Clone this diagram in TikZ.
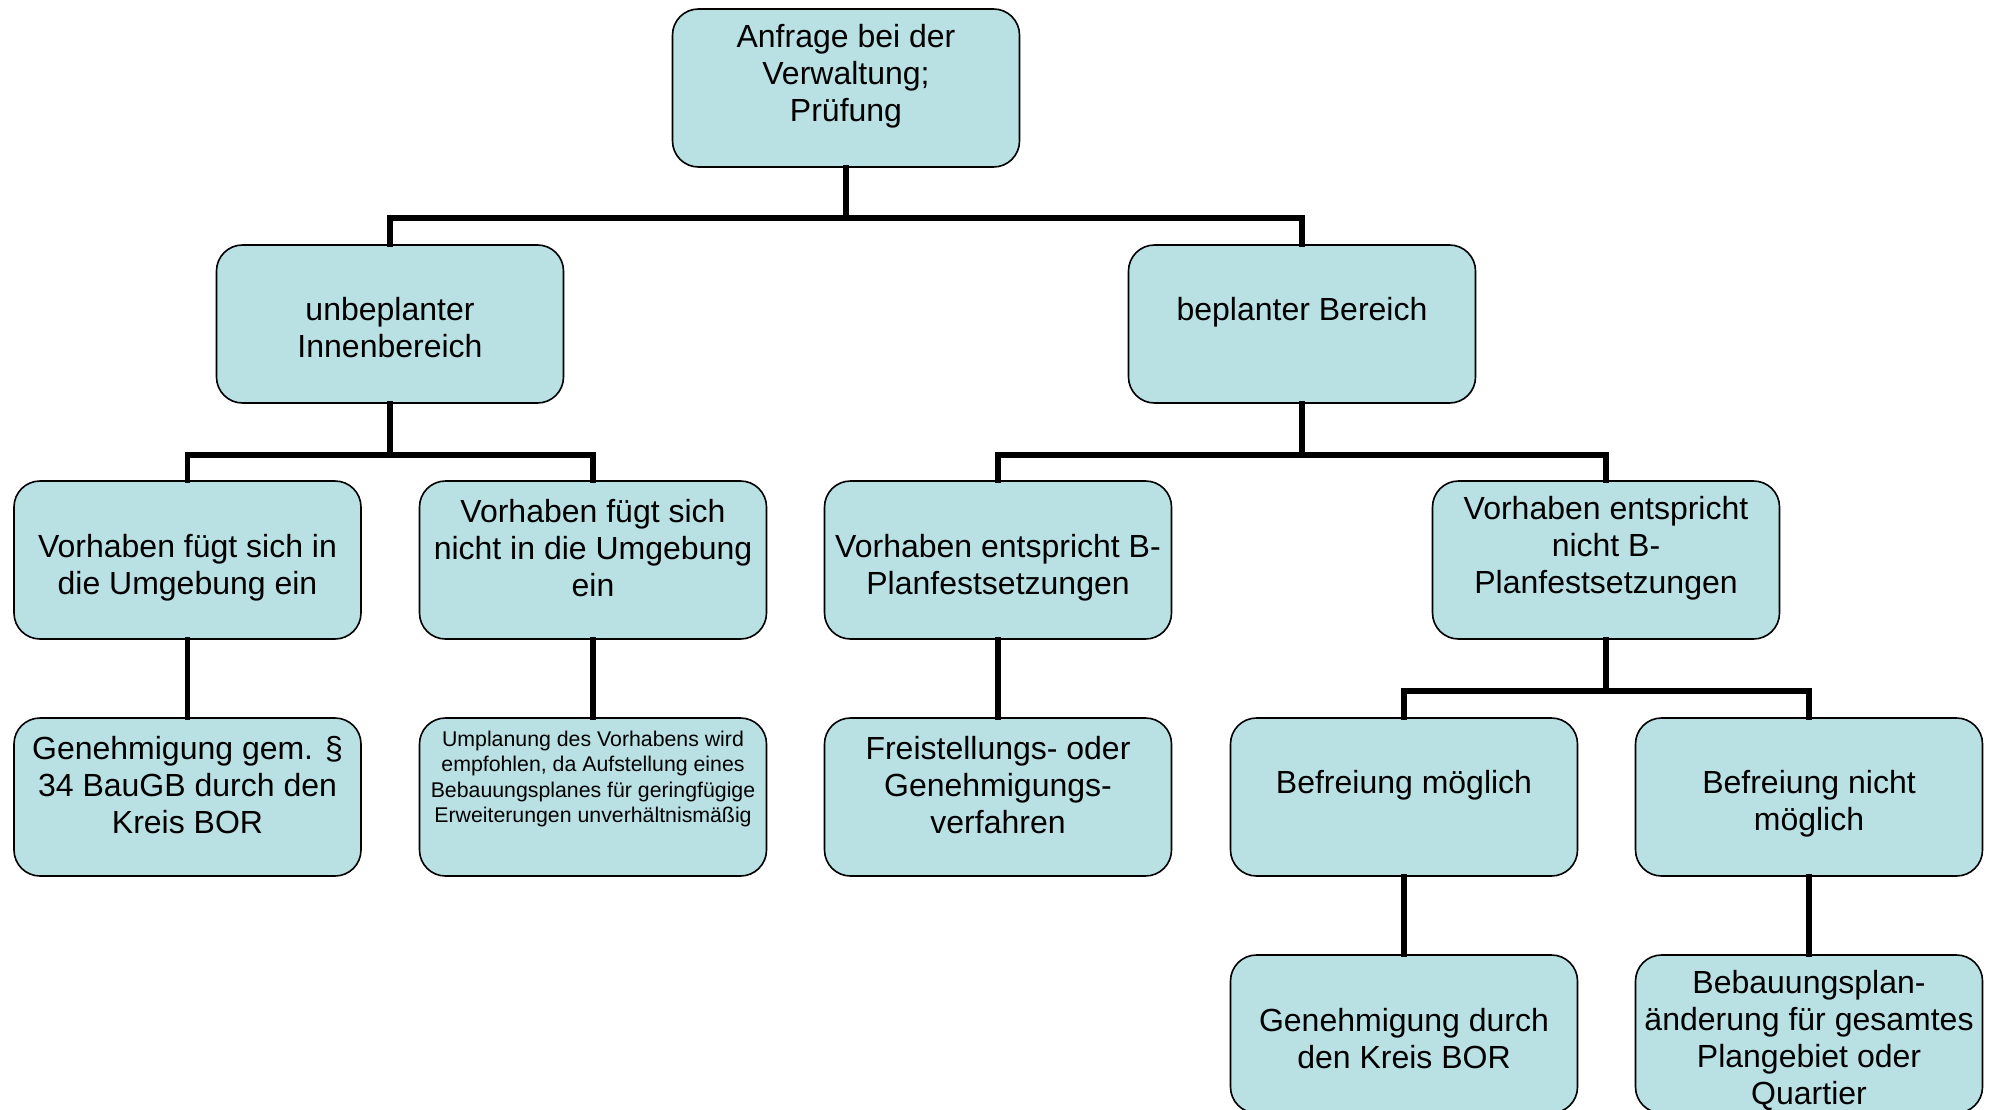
\documentclass[tikz,border=0pt]{standalone}
\usepackage{fontspec}
\setmainfont{Liberation Sans}
\usetikzlibrary{calc}
\definecolor{boxfill}{RGB}{185,224,227}
\begin{document}
\begin{tikzpicture}[x=1pt,y=-1pt,
  box/.style={draw=black,line width=1.6pt,fill=boxfill,rounded corners=26pt,
    minimum width=347pt,minimum height=158pt,inner sep=0pt},
  txt/.style={align=center,inner sep=0pt,font=\fontsize{32}{37}\selectfont},
  smalltxt/.style={align=center,inner sep=0pt,font=\fontsize{21.3}{25.4}\selectfont},
  conn/.style={line width=5.5pt,line cap=rect}]
\useasboundingbox (0,0) rectangle (1993,1110);
% boxes
\node[box] (top) at (846,88) {};
\node[box] (unb) at (390,324) {};
\node[box] (bep) at (1302,324) {};
\node[box] (v1) at (187.5,560) {};
\node[box] (v2) at (593,560) {};
\node[box] (v3) at (998,560) {};
\node[box] (v4) at (1606,560) {};
\node[box] (g1) at (187.5,797) {};
\node[box] (um) at (593,797) {};
\node[box] (fr) at (998,797) {};
\node[box] (bm) at (1404,797) {};
\node[box] (bn) at (1809,797) {};
\node[box] (gd) at (1404,1034) {};
\node[box] (bp) at (1809,1034) {};
% texts
\node[txt] (top-t) at ($(top.center)+(0,-12)$) {Anfrage bei der\\Verwaltung;\\Prüfung};
\node[txt] (unb-t) at ($(unb.center)+(0,4)$) {unbeplanter\\Innenbereich};
\node[txt] (bep-t) at ($(bep.center)+(0,-11.5)$) {beplanter Bereich};
\node[txt] (v1-t) at ($(v1.center)+(0,7.5)$) {Vorhaben fügt sich in\\die Umgebung ein};
\node[txt] (v2-t) at ($(v2.center)+(0,-12)$) {Vorhaben fügt sich\\nicht in die Umgebung\\ein};
\node[txt] (v3-t) at ($(v3.center)+(0,7.5)$) {Vorhaben entspricht B-\\Planfestsetzungen};
\node[txt] (v4-t) at ($(v4.center)+(0,-12)$) {Vorhaben entspricht\\nicht B-\\Planfestsetzungen};
\node[txt] (g1-t) at ($(g1.center)+(0,-12)$) {Genehmigung gem. §\\34 BauGB durch den\\Kreis BOR};
\node[smalltxt] (um-t) at ($(um.center)+(0,-18)$) {Umplanung des Vorhabens wird\\empfohlen, da Aufstellung eines\\Bebauungsplanes für geringfügige\\Erweiterungen unverhältnismäßig};
\node[txt] (fr-t) at ($(fr.center)+(0,-12)$) {Freistellungs- oder\\Genehmigungs-\\verfahren};
\node[txt] (bm-t) at ($(bm.center)+(0,-11.5)$) {Befreiung möglich};
\node[txt] (bn-t) at ($(bn.center)+(0,6.5)$) {Befreiung nicht\\möglich};
\node[txt] (gd-t) at ($(gd.center)+(0,4.5)$) {Genehmigung durch\\den Kreis BOR};
\node[txt] (bp-t) at ($(bp.center)+(0,6.5)$) {Bebauungsplan-\\änderung für gesamtes\\Plangebiet oder\\Quartier};
% connectors
\draw[conn] (top.south) -- ++(0,50) -| (unb.north);
\draw[conn] (top.south) -- ++(0,50) -| (bep.north);
\draw[conn] (unb.south) -- ++(0,51) -| (v1.north);
\draw[conn] (unb.south) -- ++(0,51) -| (v2.north);
\draw[conn] (bep.south) -- ++(0,51) -| (v3.north);
\draw[conn] (bep.south) -- ++(0,51) -| (v4.north);
\draw[conn] (v1.south) -- (g1.north);
\draw[conn] (v2.south) -- (um.north);
\draw[conn] (v3.south) -- (fr.north);
\draw[conn] (v4.south) -- ++(0,51) -| (bm.north);
\draw[conn] (v4.south) -- ++(0,51) -| (bn.north);
\draw[conn] (bm.south) -- (gd.north);
\draw[conn] (bn.south) -- (bp.north);
\end{tikzpicture}
\end{document}
